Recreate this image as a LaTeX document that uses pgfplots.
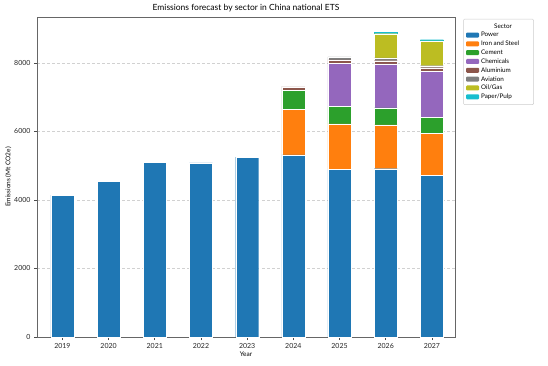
\documentclass[border=0pt]{standalone}
\usepackage{pgfplots}
\pgfplotsset{compat=1.18}
\usepackage{fontspec}
\setmainfont{Lato}
\definecolor{c1}{HTML}{1F77B4}
\definecolor{c2}{HTML}{FF7F0E}
\definecolor{c3}{HTML}{2CA02C}
\definecolor{c4}{HTML}{9467BD}
\definecolor{c5}{HTML}{8C564B}
\definecolor{c6}{HTML}{7F7F7F}
\definecolor{c7}{HTML}{BCBD22}
\definecolor{c8}{HTML}{17BECF}
\pgfplotstableread{
x power iron cement chem alu avi oil paper
0 4140 0 0 0 0 0 0 0
1 4550 0 0 0 0 0 0 0
2 5100 0 0 0 0 0 0 0
3 5080 0 0 0 0 0 0 0
4 5250 0 0 0 0 0 0 0
5 5320 1330 555 0 95 20 0 0
6 4890 1330 515 1256 97 87 0 0
7 4915 1275 496 1285 97 78 710 45
8 4720 1226 468 1342 107 59 720 35
}\data
\begin{document}
\begin{tikzpicture}
\path[use as bounding box] (0,0) rectangle (548pt,365pt);
\begin{axis}[
  at={(37pt,28pt)}, anchor=south west,
  scale only axis, width=418pt, height=320pt,
  ybar stacked, bar width=0.5,
  xmin=-0.55, xmax=8.5, ymin=0, ymax=9341,
  xtick={0,...,8}, xticklabels={2019,2020,2021,2022,2023,2024,2025,2026,2027},
  ytick={0,2000,4000,6000,8000},
  tick align=outside, major tick length=3pt,
  xtick pos=left, ytick pos=left,
  tick style={black!70, line width=0.6pt},
  axis line style={black!60, line width=0.7pt},
  ymajorgrids, grid style={densely dashed, black!18, line width=0.4pt},
  /pgf/number format/1000 sep={},
  /pgf/number format/assume math mode=true,
  ticklabel style={font=\fontsize{7}{8}\selectfont, text=black!85},
  xlabel={Year}, ylabel={Emissions (Mt CO2e)},
  label style={font=\fontsize{6.5}{7}\selectfont},
  xlabel style={yshift=4pt},
  ylabel style={yshift=-4pt},
  title={Emissions forecast by sector in China national ETS},
  title style={font=\fontsize{8.5}{10}\selectfont, yshift=-4pt},
  every axis plot/.append style={draw=white, line width=0.2pt},
  legend style={at={(1.02,0.994)}, anchor=north west, font=\fontsize{6.3}{7.5}\selectfont,
    draw=black!20, rounded corners=1pt, row sep=-1.3pt, inner sep=2.5pt,
    cells={anchor=west}},
  legend image code/.code={\draw[#1, draw=none] (0pt,-2.2pt) rectangle (13pt,2.8pt);},
]
\addlegendimage{empty legend}
\addlegendentry{\hspace*{-4pt}\makebox[52pt][c]{Sector}}
\addplot[fill=c1] table[x=x,y=power]{\data}; \addlegendentry{Power}
\addplot[fill=c2] table[x=x,y=iron]{\data}; \addlegendentry{Iron and Steel}
\addplot[fill=c3] table[x=x,y=cement]{\data}; \addlegendentry{Cement}
\addplot[fill=c4] table[x=x,y=chem]{\data}; \addlegendentry{Chemicals}
\addplot[fill=c5] table[x=x,y=alu]{\data}; \addlegendentry{Aluminium}
\addplot[fill=c6] table[x=x,y=avi]{\data}; \addlegendentry{Aviation}
\addplot[fill=c7] table[x=x,y=oil]{\data}; \addlegendentry{Oil/Gas}
\addplot[fill=c8, draw=c8, line width=0.1pt] table[x=x,y=paper]{\data}; \addlegendentry{Paper/Pulp}
\end{axis}
\end{tikzpicture}
\end{document}
